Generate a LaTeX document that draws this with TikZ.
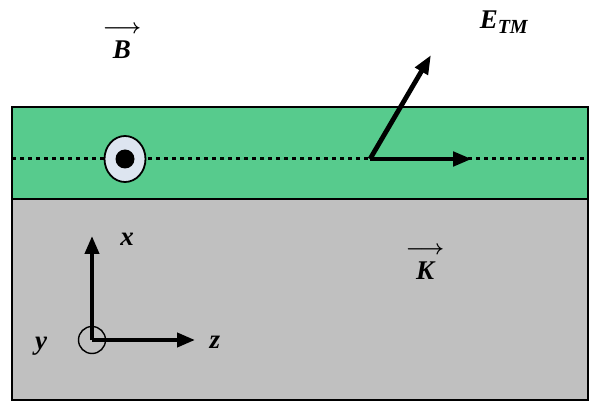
\documentclass[tikz,border=0pt]{standalone}
\usepackage{amsmath}
\usepackage{fontspec}
\setmainfont{Liberation Serif}
\usepackage{tikz}
\usetikzlibrary{arrows.meta,positioning,calc,shapes.geometric}

\definecolor{guideGreen}{RGB}{87,203,141}
\definecolor{metalGray}{RGB}{192,192,192}
\definecolor{wireBlue}{RGB}{221,229,240}

\newcommand{\vecsym}[1]{{\fontsize{22}{22}\selectfont\boldmath$\longrightarrow$}\\[-5pt]#1}

\begin{document}
\begin{tikzpicture}[
    x=1pt, y=-1pt,
    font=\bfseries\itshape\fontsize{27}{30}\selectfont,
    layerBand/.style={draw=black, line width=1.6pt},
    vecArrow/.style={
        -{Triangle[length=19pt, width=14pt]}, line width=4.8pt, draw=black
    },
    axisArrow/.style={
        -{Triangle[length=18pt, width=14pt]}, line width=4pt, draw=black
    },
    symLabel/.style={inner sep=1pt},
    vecLabel/.style={inner sep=1pt, align=center}
]

\useasboundingbox (0,0) rectangle (589,403);

% Layers
\draw[layerBand, fill=metalGray] (12,199) rectangle (588,400);
\draw[layerBand, fill=guideGreen] (12,107) rectangle (588,199);

% Guide axis
\coordinate (axisL) at (12,159);
\coordinate (axisR) at (588,159);
\draw[line width=3pt, dash pattern=on 4pt off 4pt] (axisL) -- (axisR);

% B field out of the page
\node[ellipse, draw=black, line width=1.8pt, fill=wireBlue, minimum width=41pt, minimum height=46pt, inner sep=0pt] (bdot) at (125,159) {};
\fill[black] (bdot.center) circle (9.5pt);
\node[vecLabel] (blab) at (122,42) {\vecsym{B}};

% Wave vectors
\coordinate (origE) at (370,159);
\coordinate (tipK) at (472,159);
\coordinate (tipE) at (431,55);
\draw[vecArrow] (origE) -- (tipK);
\draw[vecArrow] (origE) -- (tipE);
\node[symLabel] (elab) at (504,22) {E\textsubscript{\fontsize{20}{22}\selectfont TM}};
\node[vecLabel] (klab) at (425,263) {\vecsym{K}};

% Axes
\node[circle, draw=black, line width=1.4pt, minimum size=27pt, inner sep=0pt] (orig) at (92,340) {};
\coordinate (xtip) at (92,236);
\coordinate (ztip) at (195,340);
\draw[axisArrow] (orig.center) -- (xtip);
\draw[axisArrow] (orig.center) -- (ztip);
\node[symLabel] (xlab) at (127,239) {x};
\node[symLabel] (zlab) at (215,342) {z};
\node[symLabel] (ylab) at (41,346) {y};

\end{tikzpicture}
\end{document}
